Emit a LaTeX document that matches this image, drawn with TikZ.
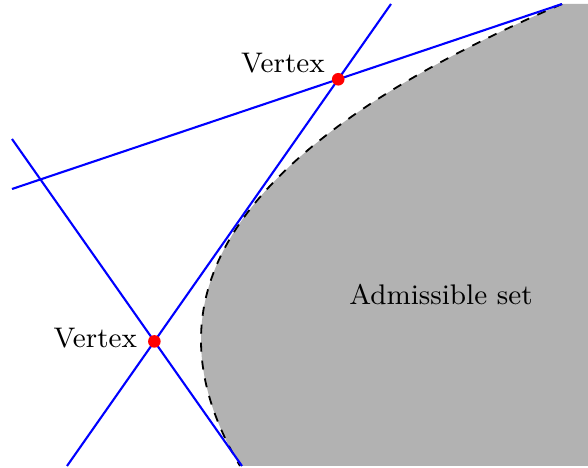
\documentclass[tikz,border=0pt]{standalone}
\usepackage{tikz}
\usetikzlibrary{positioning}
\tikzstyle{vertex} = [circle, fill=red, minimum size=4.2pt, inner sep=0pt]
\tikzstyle{line} = [blue, line width=0.7pt]

\begin{document}
\begin{tikzpicture}[x=0.3333pt, y=-0.3333pt, every node/.style={font=\fontsize{9.45pt}{11pt}\selectfont}]
        % 样式
        \tikzstyle{border} = [dashed, semithick]
        \tikzstyle{lbl} = [inner sep=0pt]
        \tikzstyle{curve} = [domain=-3.36:1.26, samples=80, smooth]

        \useasboundingbox (0,0) rectangle (588,468);

        % 可行域
        \fill [black!30] plot [curve] ({201+26.59*\x*\x-1.605*\x*\x*\x}, {340+100*\x}) -- (588,466) -- (588,4) -- cycle;
        \draw [border] plot [curve] ({201+26.59*\x*\x-1.605*\x*\x*\x}, {340+100*\x});
        \node (set) at (441,295) {Admissible set};

        % 直线
        \coordinate (p1) at (12,189);
        \coordinate (p2) at (562,4);
        \coordinate (q1) at (67,466);
        \coordinate (q2) at (391,4);
        \coordinate (r1) at (12,139);
        \coordinate (r2) at (242,466);
        \draw [line] (p1) -- (p2);
        \draw [line] (q1) -- (q2);
        \draw [line] (r1) -- (r2);

        % 顶点
        \node [vertex] (v1) at (intersection of p1--p2 and q1--q2) {};
        \node [vertex] (v2) at (intersection of q1--q2 and r1--r2) {};
        \node [lbl, above left=0.3pt and 2.7pt of v1] (t1) {Vertex};
        \node [lbl, left=3.3pt of v2, yshift=1pt] (t2) {Vertex};
\end{tikzpicture}
\end{document}
